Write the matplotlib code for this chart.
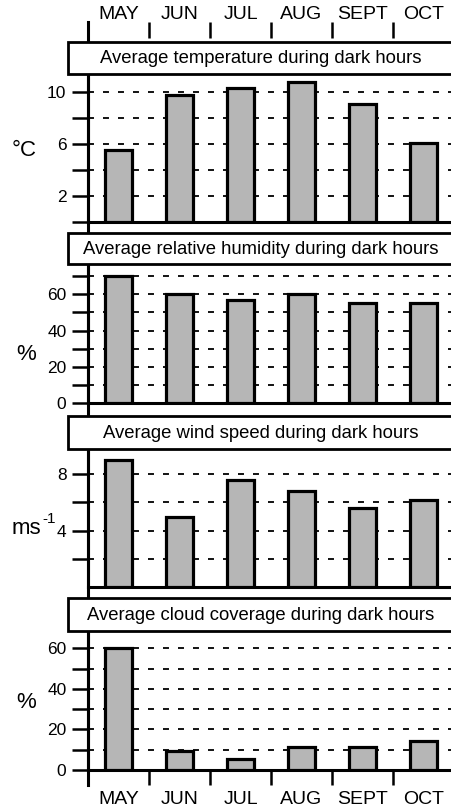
import matplotlib
matplotlib.use('Agg')
import matplotlib.pyplot as plt
from matplotlib.patches import Rectangle
from matplotlib.lines import Line2D

plt.rcParams['font.family'] = ['Liberation Sans', 'DejaVu Sans']
plt.rcParams['lines.scale_dashes'] = False

# ---------------- data ----------------
months = ['MAY', 'JUN', 'JUL', 'AUG', 'SEPT', 'OCT']
temperature = [5.5, 9.8, 10.3, 10.8, 9.1, 6.1]
humidity = [70, 60, 57, 60, 55, 55]
wind = [9.0, 5.0, 7.6, 6.8, 5.6, 6.2]
cloud = [60, 9.5, 5.4, 11.5, 11.5, 14.4]

titles = ['Average temperature during dark hours',
          'Average relative humidity during dark hours',
          'Average wind speed during dark hours',
          'Average cloud coverage during dark hours']
ylabels = ['°C', '%', 'ms', '%']

temp_ticks = [0, 2, 4, 6, 8, 10]
temp_labels = ['', '2', '', '6', '', '10']
hum_ticks = [0, 10, 20, 30, 40, 50, 60, 70]
hum_labels = ['0', '', '20', '', '40', '', '60', '']
wind_ticks = [2, 4, 6, 8]
wind_labels = ['', '4', '', '8']
cloud_ticks = [0, 10, 20, 30, 40, 50, 60]
cloud_labels = ['0', '', '20', '', '40', '', '60']

# ---------------- layout helpers (pixels) ----------------
W, H = 451, 811
def fx(x):
    return x / W
def fy(y):
    return 1 - y / H

fig = plt.figure(figsize=(W / 100, H / 100), dpi=100)

AX_L, AX_W = 88, 366
# (box_top, box_bottom/axes_top, axes_bottom, ymax)
panels = [
    (42, 74, 221.5, 11.39),
    (233, 264, 403.3, 76.7),
    (416, 449, 587.4, 9.77),
    (598, 631, 770, 68.5),
]
series = [temperature, humidity, wind, cloud]
ticks = [temp_ticks, hum_ticks, wind_ticks, cloud_ticks]
tlabels = [temp_labels, hum_labels, wind_labels, cloud_labels]
ylab_pos = [(24, 150), (26, 355), (41, 528), (26, 702)]

bar_color = '#b6b6b6'
x = list(range(len(months)))
axes = []
for i, (bt, at, ab, ymax) in enumerate(panels):
    ax = fig.add_axes([fx(AX_L), fy(ab), AX_W / W, (ab - at) / H])
    ax.set_xlim(-0.5, 5.5)
    ax.set_ylim(0, ymax)
    ax.bar(x, series[i], width=0.45, color=bar_color, edgecolor='black',
           linewidth=2.3, zorder=3)
    ax.set_yticks(ticks[i])
    ax.set_yticklabels(tlabels[i])
    ax.tick_params(axis='y', direction='out', length=11.5, width=1.8,
                   pad=4, labelsize=12.5)
    for g in ticks[i]:
        if g > 0:
            ax.axhline(g, color='black', lw=1.3, linestyle=(0, (4.3, 6.5)),
                       zorder=1)
    for s in ['top', 'right']:
        ax.spines[s].set_visible(False)
    ax.spines['left'].set_linewidth(2.2)
    ax.spines['bottom'].set_linewidth(2.2)
    ax.set_xticks([])
    axes.append(ax)

    # title box
    rect = Rectangle((fx(68), fy(at)), (470 - 68) / W, (at - bt) / H,
                     transform=fig.transFigure, facecolor='white',
                     edgecolor='black', linewidth=2.0, zorder=5)
    fig.add_artist(rect)
    fig.text(fx(261), fy((bt + at) / 2 + 0.5), titles[i], ha='center',
             va='center', fontsize=13.3, zorder=6)
    if i == 2:
        fig.text(fx(ylab_pos[i][0]), fy(ylab_pos[i][1]), ylabels[i],
                 ha='right', va='center', fontsize=16)
        fig.text(fx(ylab_pos[i][0] + 1), fy(ylab_pos[i][1] - 9), '-1',
                 ha='left', va='center', fontsize=11)
    else:
        fig.text(fx(ylab_pos[i][0]), fy(ylab_pos[i][1]), ylabels[i],
                 ha='center', va='center', fontsize=16)

# bottom month axis
ax4 = axes[-1]
bounds = [v - 0.5 for v in x]
ax4.set_xticks(bounds)
ax4.set_xticklabels([''] * len(bounds))
ax4.set_xticks(x, minor=True)
ax4.set_xticklabels(months, minor=True)
ax4.tick_params(axis='x', which='major', direction='out', length=11,
                width=1.8)
ax4.tick_params(axis='x', which='minor', length=0, pad=15, labelsize=14)

# top month axis
axt = fig.add_axes([fx(AX_L), fy(38), AX_W / W, 0.0001])
axt.set_xlim(-0.5, 5.5)
axt.set_yticks([])
for s in axt.spines.values():
    s.set_visible(False)
axt.patch.set_visible(False)
axt.set_xticks(bounds)
axt.set_xticks(x, minor=True)
axt.set_xticklabels(months, minor=True)
axt.tick_params(axis='x', which='major', top=True, bottom=False,
                labeltop=False, labelbottom=False, direction='out',
                length=11.5, width=1.8)
axt.tick_params(axis='x', which='minor', top=True, bottom=False,
                labeltop=True, labelbottom=False, length=0, pad=11,
                labelsize=14)

# continuous left vertical line through the gaps
fig.add_artist(Line2D([fx(88), fx(88)], [fy(22), fy(785)],
                      transform=fig.transFigure, color='black', lw=2.2,
                      zorder=4))

fig.savefig('out.png', dpi=100)
